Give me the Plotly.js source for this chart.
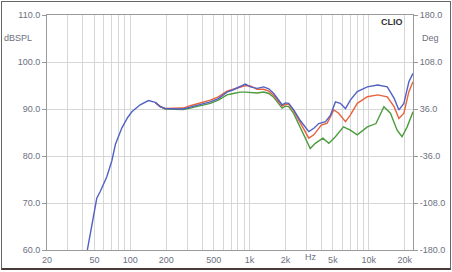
<!DOCTYPE html>
<html>
<head>
<meta charset="utf-8">
<script src="https://cdn.plot.ly/plotly-3.0.1.min.js"></script>
<style>
  html, body { margin: 0; padding: 0; background: #fff; }
  #wrap { position: relative; width: 452px; height: 272px; overflow: hidden; }
  #chart { position: absolute; left: 0; top: 0; width: 452px; height: 272px; }
  #frame { position: absolute; left: 1px; top: 1px; width: 450px; height: 269px; box-sizing: border-box;
           border: 1px solid #666; border-bottom: 2px solid #4a3a38; pointer-events: none; }
</style>
</head>
<body>
<div id="wrap"><div id="chart"></div><div id="frame"></div></div>
<script>
// ---- data ----
const freqBlue = [43.6, 52.3, 55.8, 63.5, 70, 75, 85, 95, 103, 121, 142, 162, 178, 196, 240, 278, 318, 386, 469, 547, 647, 731, 837, 922, 1016, 1156, 1315, 1449, 1596, 1758, 1876, 2000, 2132, 2348, 2673, 3140, 3460, 3810, 4340, 4780, 5250, 5770, 6380, 7000, 8010, 9730, 11900, 14300, 16300, 17900, 19700, 21700, 23500];
const splBlue  = [60, 71, 72.4, 75.6, 79, 82.5, 86, 88.2, 89.4, 90.9, 91.8, 91.4, 90.5, 90.1, 90.0, 90.0, 90.4, 91.0, 91.5, 92.2, 93.6, 94.1, 94.8, 95.3, 94.7, 94.4, 94.7, 94.3, 93.3, 91.9, 90.9, 91.3, 91.2, 89.8, 87.5, 85.2, 85.9, 86.9, 87.3, 88.7, 91.5, 91.2, 90.1, 91.9, 93.7, 94.7, 95.1, 94.7, 92.3, 89.8, 91.2, 95.8, 97.6];

const freqRed = [162, 178, 196, 240, 278, 318, 386, 469, 547, 647, 731, 837, 922, 1016, 1156, 1315, 1449, 1596, 1758, 1876, 2000, 2132, 2348, 2673, 3140, 3460, 3810, 4000, 4480, 5090, 5590, 6380, 7000, 8010, 9730, 11900, 14300, 16300, 17900, 19700, 21700, 23500];
const splRed  = [91.4, 90.5, 90.1, 90.1, 90.2, 90.7, 91.3, 91.9, 92.6, 93.8, 94.2, 94.6, 95.0, 94.9, 94.2, 94.2, 93.8, 92.9, 91.5, 90.6, 91.0, 91.0, 89.6, 87.0, 83.8, 84.5, 85.8, 86.6, 87.0, 89.8, 89.1, 87.3, 88.7, 91.2, 92.6, 93.0, 92.6, 90.5, 88.0, 89.1, 93.7, 95.8];

const freqGreen = [162, 178, 196, 240, 278, 318, 386, 469, 547, 647, 731, 837, 922, 1016, 1156, 1315, 1449, 1596, 1758, 1876, 2000, 2132, 2348, 2673, 3230, 3560, 4120, 4620, 5250, 6140, 7000, 8010, 9730, 11500, 13400, 15200, 17300, 19000, 21000, 23500];
const splGreen  = [91.4, 90.5, 90.0, 89.9, 89.9, 90.2, 90.7, 91.2, 91.9, 93.0, 93.3, 93.6, 93.6, 93.5, 93.4, 93.6, 93.3, 92.5, 91.0, 90.2, 90.6, 90.5, 89.0, 86.0, 81.6, 82.7, 83.8, 82.7, 84.1, 86.2, 85.5, 84.5, 86.2, 86.9, 90.5, 89.1, 85.5, 84.1, 86.2, 89.4];

const gridFreqs = [20,30,40,50,60,70,80,90,100,200,300,400,500,600,700,800,900,1000,2000,3000,4000,5000,6000,7000,8000,9000,10000,20000];
const freqLabels = {20:'20',50:'50',100:'100',200:'200',500:'500',1000:'1k',2000:'2k',5000:'5k',10000:'10k',20000:'20k'};
const splTicks = [60,70,80,90,100,110];
const degTicks = [-180,-108,-36,36,108,180];

// ---- chart ----
const textCol = '#6c7080';
const gridCol = '#d6d6d6';
const axisCol = '#9a9a9a';
const fnt = {family: 'Liberation Sans, Arial, sans-serif', size: 9, color: textCol};

const traces = [
  {x: freqGreen, y: splGreen, type: 'scatter', mode: 'lines', line: {color: '#4c9c3e', width: 1.4}},
  {x: freqRed, y: splRed, type: 'scatter', mode: 'lines', line: {color: '#e8623e', width: 1.4}},
  {x: freqBlue, y: splBlue, type: 'scatter', mode: 'lines', line: {color: '#5262c2', width: 1.4}},
  {x: [], y: [], yaxis: 'y2', type: 'scatter', mode: 'lines'}
];

const layout = {
  width: 452, height: 272,
  margin: {l: 47, r: 39, t: 15, b: 22, pad: 0},
  paper_bgcolor: '#fff', plot_bgcolor: '#fff',
  showlegend: false,
  font: fnt,
  xaxis: {
    type: 'log', range: [Math.log10(20), Math.log10(23500)],
    tickmode: 'array', tickvals: gridFreqs,
    ticktext: gridFreqs.map(f => freqLabels[f] || ''),
    showgrid: true, gridcolor: gridCol, gridwidth: 1,
    showline: true, linecolor: axisCol, linewidth: 1, mirror: true,
    ticks: '', zeroline: false, tickfont: fnt, ticklabelstandoff: 1
  },
  yaxis: {
    range: [60, 110], tickmode: 'array', tickvals: splTicks,
    ticktext: splTicks.map(v => v.toFixed(1)),
    showgrid: true, gridcolor: gridCol, gridwidth: 1,
    showline: true, linecolor: axisCol, linewidth: 1,
    ticks: 'outside', ticklen: 4, tickcolor: axisCol, zeroline: false, tickfont: fnt
  },
  yaxis2: {
    overlaying: 'y', side: 'right', range: [-180, 180],
    tickmode: 'array', tickvals: degTicks, ticktext: degTicks.map(v => v.toFixed(1)),
    showgrid: false, showline: true, linecolor: axisCol, linewidth: 1,
    ticks: 'outside', ticklen: 4, tickcolor: axisCol, zeroline: false, tickfont: fnt
  },
  annotations: [
    {text: 'dBSPL', xref: 'paper', yref: 'paper', x: -0.079, y: 0.902, showarrow: false, font: fnt, xanchor: 'center', yanchor: 'middle'},
    {text: 'Deg', xref: 'paper', yref: 'paper', x: 1.019, y: 0.902, showarrow: false, font: fnt, xanchor: 'left', yanchor: 'middle'},
    {text: '<b>CLIO</b>', xref: 'paper', yref: 'paper', x: 0.943, y: 0.970, showarrow: false, font: {family: 'Liberation Sans, Arial, sans-serif', size: 9, color: '#333'}, xanchor: 'center', yanchor: 'middle'},
    {text: 'Hz', xref: 'x', yref: 'paper', x: Math.log10(3250), y: -0.03, showarrow: false, font: fnt, xanchor: 'center', yanchor: 'middle'}
  ]
};

Plotly.newPlot('chart', traces, layout, {staticPlot: true, displayModeBar: false});
</script>
</body>
</html>
